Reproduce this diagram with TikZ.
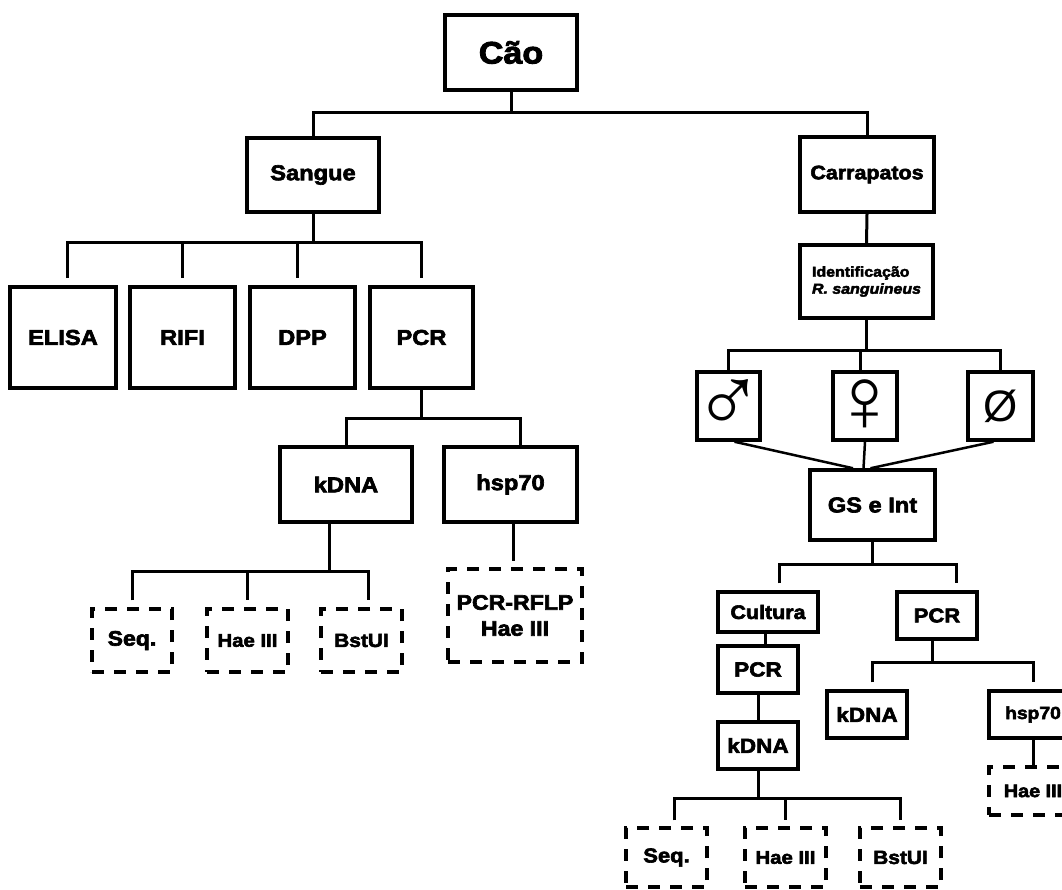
\documentclass[tikz,border=0pt]{standalone}
\usepackage{fontspec}
\setmainfont{Liberation Sans}[FakeStretch=1.1,BoldFeatures={FakeBold=3},BoldItalicFeatures={FakeBold=3}]
\newfontfamily\symf{Liberation Sans}
\begin{document}
\begin{tikzpicture}[x=1pt,y=-1pt,
  box/.style={draw,line width=3.5pt,inner sep=0pt,font=\bfseries},
  dbox/.style={box,dash pattern=on 12pt off 10pt},
  fs/.style={font=\bfseries\fontsize{#1}{#1}\selectfont},
  sym/.style={font=\symf\fontsize{#1}{#1}\selectfont},
  conn/.style={line width=3pt}]
\useasboundingbox (0,0) rectangle (1062,890);
\fill[white] (0,0) rectangle (1062,890);

% top
\node[box,fs=31,minimum width=132pt,minimum height=75pt] (cao) at (511,52.5) {Cão};
\node[box,fs=21.5,minimum width=132pt,minimum height=74pt] (sangue) at (313,175) {Sangue};
\node[box,fs=19.5,minimum width=134pt,minimum height=75pt] (carr) at (867,174.5) {Carrapatos};

% left branch
\node[box,fs=21.5,minimum width=106pt,minimum height=101pt] (elisa) at (63,337.5) {ELISA};
\node[box,fs=21.5,minimum width=105pt,minimum height=101pt] (rifi) at (182.5,337.5) {RIFI};
\node[box,fs=21.5,minimum width=105pt,minimum height=101pt] (dpp) at (302.5,337.5) {DPP};
\node[box,fs=21.5,minimum width=103pt,minimum height=101pt] (pcra) at (421.5,337.5) {PCR};
\node[box,fs=21.5,minimum width=132pt,minimum height=75pt] (kdnaa) at (346,484.5) {kDNA};
\node[box,fs=21.5,minimum width=133pt,minimum height=75pt] (hspa) at (510.5,484.5) {hsp70};
\node[dbox,fs=21,minimum width=80pt,minimum height=63pt] (seqa) at (132,640.5) {Seq.};
\node[dbox,fs=18.5,minimum width=81pt,minimum height=63pt] (haea) at (247.5,640.5) {Hae III};
\node[dbox,fs=19,minimum width=81pt,minimum height=63pt] (bsta) at (361.5,640.5) {BstUI};
\node[dbox,font=\bfseries\fontsize{21}{26}\selectfont,align=center,minimum width=134pt,minimum height=93pt] (rflp) at (515,615.5) {PCR-RFLP\\Hae III};

% right branch
\node[box,font=\bfseries\fontsize{14.5}{17}\selectfont,align=left,minimum width=133pt,minimum height=73pt] (ident) at (866.5,281.5) {Identificação\\\textit{R. sanguineus}};
\node[box,sym=94,minimum width=63pt,minimum height=68pt] (male) at (728.5,406) {\makebox[0pt]{♂}};
\node[box,sym=92,minimum width=64pt,minimum height=68pt] (fem) at (865,406) {\makebox[0pt]{♀}};
\node[box,sym=44,minimum width=65pt,minimum height=68pt] (phi) at (1000.5,406) {Ø};
\node[box,fs=21.5,minimum width=125pt,minimum height=70pt] (gs) at (872.5,505) {GS e Int};
\node[box,fs=19.5,minimum width=100pt,minimum height=40pt] (cult) at (768,612) {Cultura};
\node[box,fs=20,minimum width=80pt,minimum height=47pt] (pcrb) at (937,615.5) {PCR};
\node[box,fs=20.5,minimum width=80pt,minimum height=47pt] (pcrc) at (758,669.5) {PCR};
\node[box,fs=20.5,minimum width=80pt,minimum height=47pt] (kdnac) at (758,745.5) {kDNA};
\node[box,fs=20.5,minimum width=80pt,minimum height=47pt] (kdnab) at (867,714.5) {kDNA};
\node[box,fs=17.5,minimum width=88pt,minimum height=47pt] (hspb) at (1033,714.5) {hsp70};
\node[dbox,fs=18,minimum width=88pt,minimum height=48pt] (haeb) at (1033,791) {Hae III};
\node[dbox,fs=20,minimum width=81pt,minimum height=59pt] (seqc) at (666.5,857.5) {Seq.};
\node[dbox,fs=18.5,minimum width=81pt,minimum height=59pt] (haec) at (785.5,857.5) {Hae III};
\node[dbox,fs=19,minimum width=81pt,minimum height=59pt] (bstc) at (900.5,857.5) {BstUI};

% bar levels
\coordinate (y0) at (0,113);
\coordinate (y1) at (0,243);
\coordinate (y2) at (0,418);
\coordinate (y3) at (0,571);
\coordinate (y4) at (0,350);
\coordinate (y5) at (0,564);
\coordinate (y6) at (0,662);
\coordinate (y7) at (0,798);

% Cao
\draw[conn] (cao.south) -- (cao.south |- y0);
\draw[conn] (sangue.north) -- (sangue.north |- y0) -- (carr.north |- y0) -- (carr.north);

% Sangue
\draw[conn] (sangue.south) -- (sangue.south |- y1);
\coordinate (se) at ([xshift=4pt]elisa.north);
\coordinate (sd) at ([xshift=-5pt]dpp.north);
\draw[conn] ([yshift=7pt]se) -- (se |- y1) -- (pcra.north |- y1) -- ([yshift=7pt]pcra.north);
\draw[conn] (rifi.north |- y1) -- ([yshift=7pt]rifi.north);
\draw[conn] (sd |- y1) -- ([yshift=7pt]sd);

% PCR left
\coordinate (sh) at ([xshift=9.5pt]hspa.north);
\draw[conn] (pcra.south) -- (pcra.south |- y2);
\draw[conn] (kdnaa.north) -- (kdnaa.north |- y2) -- (sh |- y2) -- (sh);

% kDNA left
\coordinate (ks) at ([xshift=-17pt]kdnaa.south);
\coordinate (sb) at ([xshift=6.5pt]bsta.north);
\draw[conn] (ks) -- (ks |- y3);
\draw[conn] ([yshift=7pt]seqa.north) -- (seqa.north |- y3) -- (sb |- y3) -- ([yshift=7pt]sb);
\draw[conn] (haea.north |- y3) -- ([yshift=7pt]haea.north);

% hsp70 left
\coordinate (hs) at ([xshift=2.5pt]hspa.south);
\draw[conn] (hs) -- ([yshift=6pt]hs |- rflp.north);

% Carrapatos
\draw[conn] (carr.south) -- (ident.north);
\draw[conn] (ident.south) -- (ident.south |- y4);
\coordinate (sf) at ([xshift=-5pt]fem.north);
\draw[conn] (male.north) -- (male.north |- y4) -- (phi.north |- y4) -- (phi.north);
\draw[conn] (sf |- y4) -- (sf);

% sexes to GS
\draw[conn,line width=2.5pt] ([xshift=6pt]male.south) -- ([xshift=-19.5pt]gs.north);
\draw[conn,line width=2.5pt] (fem.south) -- ([xshift=-9pt]gs.north);
\draw[conn,line width=2.5pt] ([xshift=-7pt]phi.south) -- ([xshift=-2pt]gs.north);

% GS
\coordinate (c1) at ([xshift=11pt]cult.north);
\coordinate (c2) at ([xshift=19pt]pcrb.north);
\draw[conn] (gs.south) -- (gs.south |- y5);
\draw[conn] ([yshift=7pt]c1) -- (c1 |- y5) -- (c2 |- y5) -- ([yshift=7pt]c2);

% Cultura column
\coordinate (cs) at ([xshift=-3pt]cult.south);
\draw[conn] (cs) -- (cs |- pcrc.north);
\draw[conn] (pcrc.south) -- (kdnac.north);

% PCR right
\coordinate (ps) at ([xshift=-5pt]pcrb.south);
\coordinate (k2) at ([xshift=5pt]kdnab.north);
\draw[conn] (ps) -- (ps |- y6);
\draw[conn] ([yshift=7pt]k2) -- (k2 |- y6) -- (hspb.north |- y6) -- ([yshift=7pt]hspb.north);
\draw[conn] (hspb.south) -- (haeb.north);

% kDNA bottom
\coordinate (s3) at ([xshift=7.5pt]seqc.north);
\draw[conn] (kdnac.south) -- (kdnac.south |- y7);
\draw[conn] ([yshift=6pt]s3) -- (s3 |- y7) -- (bstc.north |- y7) -- ([yshift=6pt]bstc.north);
\draw[conn] (haec.north |- y7) -- ([yshift=6pt]haec.north);
\end{tikzpicture}
\end{document}
